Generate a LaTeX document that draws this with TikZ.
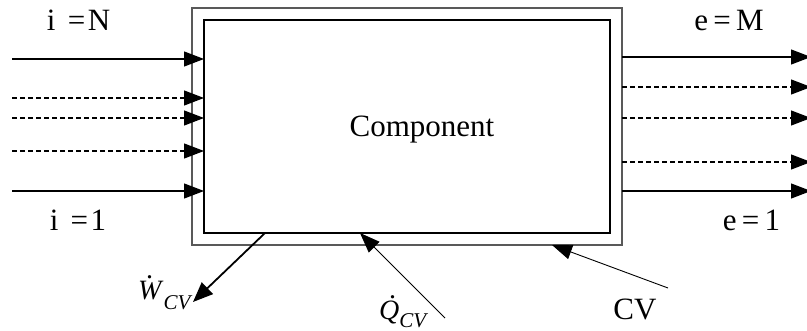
\documentclass[tikz,border=0pt]{standalone}
\usepackage{fontspec}
\setmainfont{Liberation Serif}
\usetikzlibrary{arrows.meta}
\newcommand{\dotsym}[3]{\makebox[0pt][l]{\kern#2\raisebox{#3}{.}}\textit{#1}}
\newcommand{\cvsub}[1]{\raisebox{-#1}{\fontsize{21}{25}\selectfont\itshape CV}}
\begin{document}
\begin{tikzpicture}[x=1pt,y=-1pt,
  lbl/.style={font=\fontsize{31}{37}\selectfont, inner sep=0pt, anchor=base},
  rate/.style={font=\fontsize{28}{33}\selectfont, inner sep=0pt, anchor=base west},
  flow/.style={line width=1.2pt, -{Triangle[length=20pt,width=15pt]}},
  dflow/.style={flow, dash pattern=on 5pt off 3pt},
  thinarrow/.style={line width=0.9pt, -{Triangle[length=20pt,width=15pt]}},
  boxin/.style={draw=black, line width=2pt, minimum width=406pt, minimum height=213pt, inner sep=0pt, outer sep=0pt},
  boxout/.style={draw=black!65, line width=1.1pt, minimum width=430pt, minimum height=237pt, inner sep=0pt, outer sep=0pt}]
\useasboundingbox (0,0) rectangle (807,331);
\node[boxout] (cv) at (407,126.5) {};
\node[boxin] (inner) at (407,126.5) {};
\node[lbl] (comp) at (422,137) {Component};
% inputs
\coordinate (i1) at (12,59);
\coordinate (i2) at (12,98);
\coordinate (i3) at (12,118);
\coordinate (i4) at (12,151);
\coordinate (i5) at (12,191);
\draw[flow] (i1) -- (i1 -| inner.west);
\draw[dflow] (i2) -- (i2 -| inner.west);
\draw[dflow] (i3) -- (i3 -| inner.west);
\draw[dflow] (i4) -- (i4 -| inner.west);
\draw[flow] (i5) -- (i5 -| inner.west);
% outputs
\coordinate (o1) at (811,57);
\coordinate (o2) at (811,87);
\coordinate (o3) at (811,118);
\coordinate (o4) at (811,162);
\coordinate (o5) at (811,191);
\draw[flow] (o1 -| cv.east) -- (o1);
\draw[dflow] (o2 -| cv.east) -- (o2);
\draw[dflow] (o3 -| cv.east) -- (o3);
\draw[dflow] (o4 -| cv.east) -- (o4);
\draw[flow] (o5 -| cv.east) -- (o5);
% labels
\node[lbl] (iN) at (78.5,31) {i\hspace{0.4em}=\hspace{0.08em}N};
\node[lbl] (i1l) at (78,231) {i\hspace{0.4em}=\hspace{0.08em}1};
\node[lbl] (eM) at (729,31) {e\,=\,M};
\node[lbl] (e1l) at (751.5,231) {e\,=\,1};
% bottom arrows
\coordinate (wstart) at (265,233);
\coordinate (wend) at (193,302);
\draw[line width=1.8pt, -{Triangle[length=20pt,width=16pt]}] (wstart) -- (wend);
\node[rate] (wl) at (138,300) {\dotsym{W}{8pt}{21pt}\cvsub{10pt}};
\coordinate (qstart) at (445,318);
\coordinate (qend) at (360,233);
\draw[thinarrow] (qstart) -- (qend);
\node[rate] (ql) at (379,320) {\dotsym{Q}{10pt}{21.5pt}\cvsub{8pt}};
\coordinate (cvstart) at (668,288);
\coordinate (cvend) at (552,245);
\draw[thinarrow] (cvstart) -- (cvend);
\node[lbl] (cvl) at (635,320) {CV};
\end{tikzpicture}
\end{document}
